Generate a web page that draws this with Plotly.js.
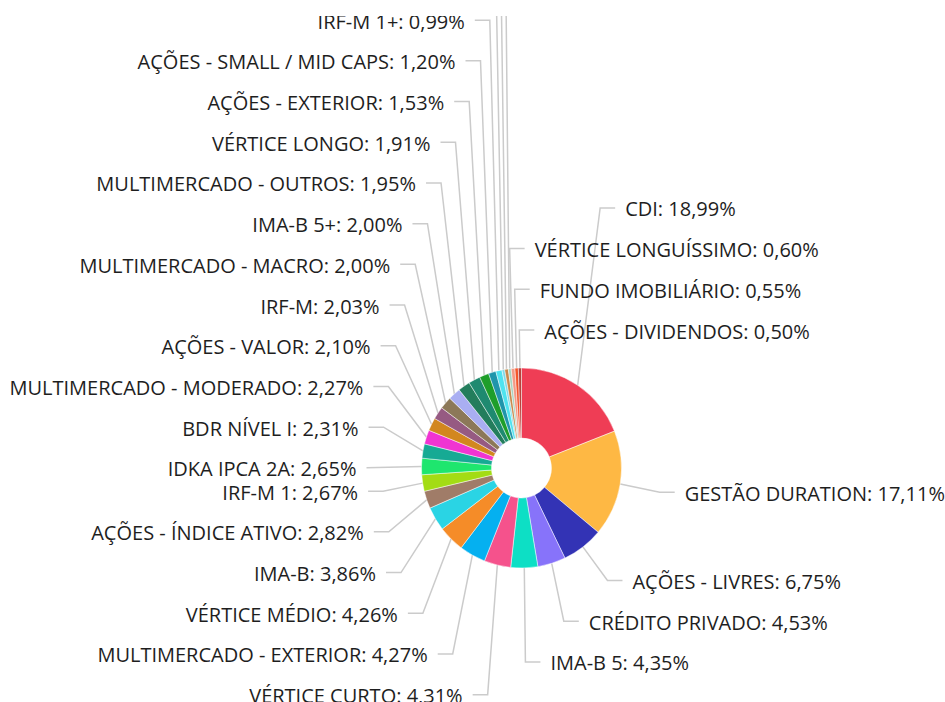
<!DOCTYPE html>
<html>
<head>
<meta charset="utf-8">
<script src="https://cdn.plot.ly/plotly-3.0.1.min.js"></script>
<style>
html,body{margin:0;padding:0;background:#ffffff;}
#chart{width:945px;height:702px;}
</style>
</head>
<body>
<div id="chart"></div>
<script>
// ---------------- data ----------------
// null = slice whose label lies outside the visible picture
const categories = [
  "CDI", "GESTÃO DURATION", "AÇÕES - LIVRES", "CRÉDITO PRIVADO", "IMA-B 5",
  "VÉRTICE CURTO", "MULTIMERCADO - EXTERIOR", "VÉRTICE MÉDIO", "IMA-B",
  "AÇÕES - ÍNDICE ATIVO", "IRF-M 1", "IDKA IPCA 2A", "BDR NÍVEL I",
  "MULTIMERCADO - MODERADO", "AÇÕES - VALOR", "IRF-M", "MULTIMERCADO - MACRO",
  "IMA-B 5+", "MULTIMERCADO - OUTROS", "VÉRTICE LONGO", "AÇÕES - EXTERIOR",
  "AÇÕES - SMALL / MID CAPS", "IRF-M 1+", null, null, null,
  "VÉRTICE LONGUÍSSIMO", "FUNDO IMOBILIÁRIO", "AÇÕES - DIVIDENDOS"
];
const values = [
  18.99, 17.11, 6.75, 4.53, 4.35,
  4.31, 4.27, 4.26, 3.86,
  2.82, 2.67, 2.65, 2.31,
  2.27, 2.10, 2.03, 2.00,
  2.00, 1.95, 1.91, 1.53,
  1.20, 0.99, 0.45, 0.58, 0.46,
  0.60, 0.55, 0.50
];
const colors = [
  "#ef3d55", "#feb844", "#3333b5", "#8773fa", "#0ddfc5",
  "#f5528c", "#05b0f0", "#f58c28", "#2ad4e4",
  "#a07c68", "#a3dc14", "#1ee66e", "#16aa94",
  "#f034d2", "#d2871f", "#965a82", "#8c7858",
  "#a9aef2", "#237d5c", "#1f8a70", "#1e9e2a",
  "#1f95ab", "#4ee3ef", "#7fdbe8", "#c8894c", "#a8d4c0",
  "#f39a86", "#f4552a", "#b8403c"
];

// ---------------- layout constants ----------------
const W = 945, H = 702, CLIP_TOP = 16;
const CX = 521.5, CY = 468, R = 100, HOLE = 0.3;
const LINE_R = 140, LINE_DY = 2, SEG = 15, TEXT_GAP = 10, TEXT_DY = 3.5, STEP = 40.7, TOP_TOL = 14;
const FONT = {family: "'Open Sans', 'Noto Sans', sans-serif", size: 20, color: "#1e1e1e"};

function fmt(v){ return v.toFixed(2).replace('.', ',') + '%'; }

// ---------------- label placement computed from the slice angles ----------------
const total = values.reduce((a, b) => a + b, 0);
let acc = 0;
const items = values.map((v, i) => {
  const t = (acc + v / 2) / total * 2 * Math.PI; acc += v;
  const s = Math.sin(t), c = Math.cos(t);
  const nx = CX + LINE_R * s, ny = CY + LINE_DY - LINE_R * c;
  return {i, t, ex: CX + R * s, ey: CY - R * c, nx, ny, dir: (nx >= CX - TOP_TOL) ? 1 : -1};
});
[1, -1].forEach(side => {
  const list = items.filter(d => d.dir === side).sort((a, b) => side === 1 ? a.t - b.t : b.t - a.t);
  const up = list.filter(d => d.ny < CY), down = list.filter(d => d.ny >= CY);
  for (let k = up.length - 1; k >= 0; k--) {
    up[k].y = (k === up.length - 1) ? up[k].ny : Math.min(up[k].ny, up[k + 1].y - STEP);
  }
  for (let k = 0; k < down.length; k++) {
    down[k].y = (k === 0) ? down[k].ny : Math.max(down[k].ny, down[k - 1].y + STEP);
  }
});

const lx = [], ly = [];
items.forEach(d => {
  lx.push(d.ex, d.nx, d.nx + d.dir * SEG, null);
  ly.push(d.ey, d.y, d.y, null);
});
const named = items.filter(d => categories[d.i] !== null);

const traces = [
  {
    type: 'scatter', mode: 'lines', x: lx, y: ly,
    line: {color: '#cbcbcb', width: 1.5}, hoverinfo: 'skip', showlegend: false
  },
  {
    type: 'scatter', mode: 'text',
    x: named.map(d => d.nx + d.dir * (SEG + TEXT_GAP)),
    y: named.map(d => d.y + TEXT_DY),
    text: named.map(d => categories[d.i] + ': ' + fmt(values[d.i])),
    textposition: named.map(d => d.dir > 0 ? 'middle right' : 'middle left'),
    textfont: FONT, cliponaxis: true, hoverinfo: 'skip', showlegend: false
  },
  {
    type: 'pie', values: values,
    labels: categories.map((c, i) => c === null ? ('fatia ' + (i + 1)) : c),
    marker: {colors: colors, line: {color: 'rgba(255,255,255,0.6)', width: 0.8}},
    hole: HOLE, sort: false, direction: 'clockwise', rotation: 0,
    textinfo: 'none', hoverinfo: 'label+percent', showlegend: false,
    domain: {
      x: [(CX - R) / W, (CX + R) / W],
      y: [(H - (CY + R)) / (H - CLIP_TOP), (H - (CY - R)) / (H - CLIP_TOP)]
    }
  }
];

const layout = {
  width: W, height: H,
  margin: {l: 0, r: 0, t: CLIP_TOP, b: 0, pad: 0},
  paper_bgcolor: '#ffffff', plot_bgcolor: '#ffffff',
  showlegend: false,
  xaxis: {range: [0, W], visible: false, fixedrange: true},
  yaxis: {range: [H, CLIP_TOP], visible: false, fixedrange: true},
  font: FONT
};

Plotly.newPlot('chart', traces, layout, {displayModeBar: false, staticPlot: true});
</script>
</body>
</html>
